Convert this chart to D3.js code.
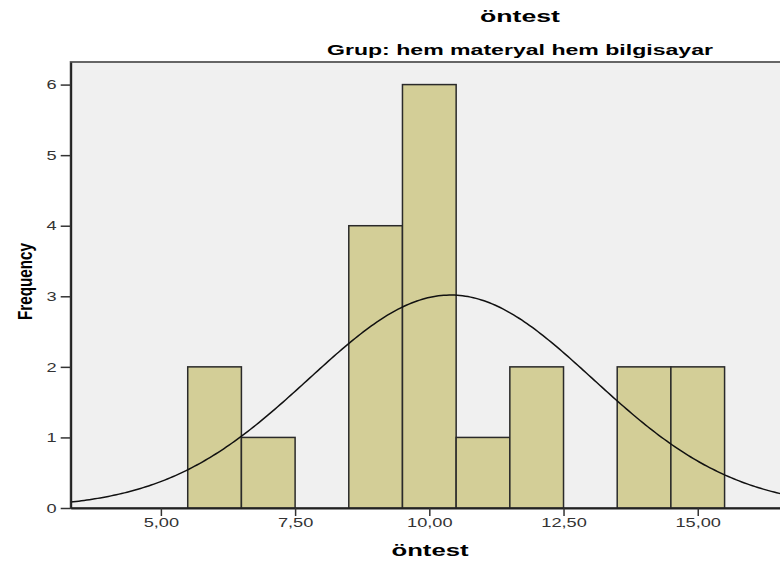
<!DOCTYPE html>
<html>
<head>
<meta charset="utf-8">
<script src="https://cdn.jsdelivr.net/npm/d3@7"></script>
<style>
  body { margin: 0; background: #fff; }
  text { font-family: "Liberation Sans", Arial, sans-serif; }
</style>
</head>
<body>
<div id="chart"></div>
<script>
// histogram bins (lower edge, count), bin width 1
const binStarts = [5.5, 6.5, 8.5, 9.5, 10.5, 11.5, 13.5, 14.5];
const counts = [2, 1, 4, 6, 1, 2, 2, 2];
const binWidth = 1;
const xTicks = [5, 7.5, 10, 12.5, 15];
const yTicks = [0, 1, 2, 3, 4, 5, 6];
// fitted normal curve
const mean = 10.4, stdDev = 2.644, N = 20;

const width = 780, height = 562;
const plotLeft = 70.7, plotTop = 62, plotBottom = 508;
const stretch = 1.4; // the source picture is widened, text too

const svg = d3
  .select("#chart")
  .append("svg")
  .attr("width", width)
  .attr("height", height);

const x = d3.scaleLinear([3.32, 16.7], [plotLeft, 789]);
const y = d3.scaleLinear([0, 6.32], [plotBottom, plotTop]);

const fmt = (v) => d3.format(".2f")(v).replace(".", ",");

// plot background
svg.append("rect")
  .attr("x", plotLeft)
  .attr("y", plotTop)
  .attr("width", x.range()[1] - plotLeft)
  .attr("height", plotBottom - plotTop)
  .attr("fill", "#f0f0f0")
  .attr("stroke", "#666")
  .attr("stroke-width", 2);

// bars
svg.selectAll("rect.bar")
  .data(binStarts.map((b, i) => ({ start: b, count: counts[i] })))
  .join("rect")
  .attr("class", "bar")
  .attr("x", (d) => x(d.start))
  .attr("y", (d) => y(d.count))
  .attr("width", (d) => x(d.start + binWidth) - x(d.start))
  .attr("height", (d) => y(0) - y(d.count))
  .attr("fill", "#d3ce97")
  .attr("stroke", "#2a2a2a")
  .attr("stroke-width", 1.5);

// normal curve
const density = (v) =>
  (N * binWidth) / (stdDev * Math.sqrt(2 * Math.PI)) *
  Math.exp(-0.5 * Math.pow((v - mean) / stdDev, 2));

const pts = d3.range(x.domain()[0], x.domain()[1], 0.05).map((v) => [x(v), y(density(v))]);
svg.append("path")
  .attr("d", d3.line()(pts))
  .attr("fill", "none")
  .attr("stroke", "#111")
  .attr("stroke-width", 1.5);

// axes
const xAxis = svg.append("g")
  .attr("transform", `translate(0,${plotBottom})`)
  .call(d3.axisBottom(x).tickValues(xTicks).tickFormat(fmt).tickSize(8).tickPadding(2).tickSizeOuter(0));
xAxis.select(".domain").attr("stroke", "#222").attr("stroke-width", 2);
xAxis.selectAll(".tick line").attr("stroke", "#333").attr("stroke-width", 1.5);
xAxis.selectAll("text")
  .attr("font-size", 13).attr("fill", "#333")
  .attr("transform", `scale(${stretch},1)`);

const yAxis = svg.append("g")
  .attr("transform", `translate(${plotLeft},0)`)
  .call(d3.axisLeft(y).tickValues(yTicks).tickFormat(d3.format("d")).tickSize(10).tickSizeOuter(0));
yAxis.select(".domain").attr("stroke", "#222").attr("stroke-width", 2);
yAxis.selectAll(".tick line").attr("stroke", "#333").attr("stroke-width", 1.5);
yAxis.selectAll("text")
  .attr("font-size", 13).attr("fill", "#333")
  .attr("x", 0)
  .attr("transform", `translate(-14,0) scale(${stretch},1)`);

// titles, widths fitted to the source
function title(str, cx, baseline, size, len) {
  svg.append("text")
    .attr("x", cx).attr("y", baseline)
    .attr("text-anchor", "middle")
    .attr("font-size", size).attr("font-weight", "bold")
    .attr("textLength", len)
    .attr("lengthAdjust", "spacingAndGlyphs")
    .text(str);
}
title("öntest", 520, 22, 17, 80);
title("Grup: hem materyal hem bilgisayar", 520, 55, 15, 386);
title("öntest", 430, 556, 16, 77);

svg.append("text")
  .attr("transform", "translate(31.5,281.5) scale(1.35,1) rotate(-90)")
  .attr("text-anchor", "middle")
  .attr("font-size", 15).attr("font-weight", "bold")
  .attr("textLength", 77)
  .attr("lengthAdjust", "spacingAndGlyphs")
  .text("Frequency");
</script>
</body>
</html>
